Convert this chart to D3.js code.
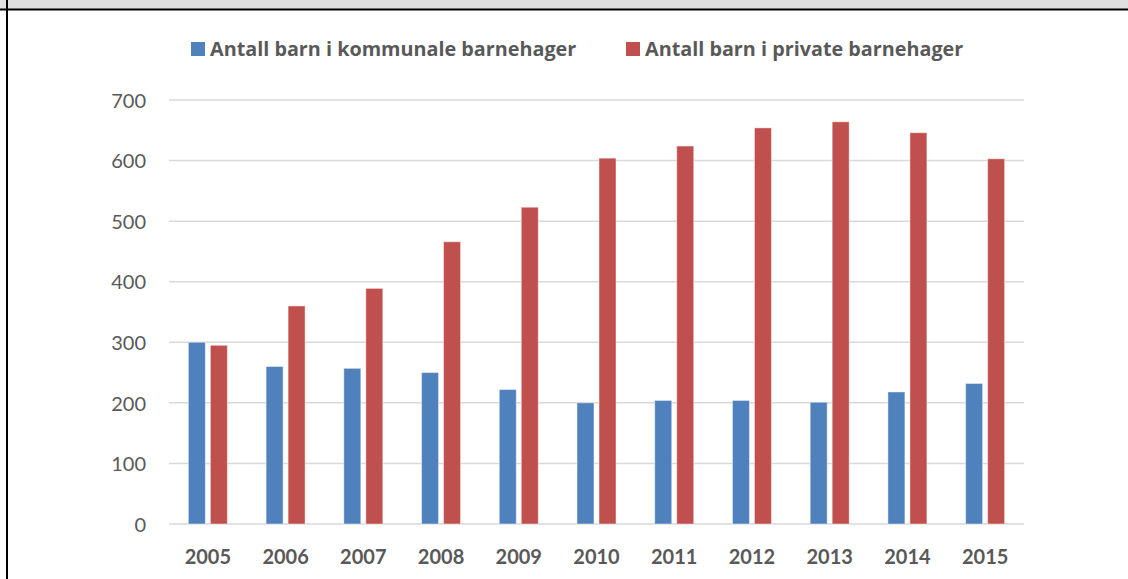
<!DOCTYPE html>
<html>
<head>
<meta charset="utf-8">
<script src="https://cdn.jsdelivr.net/npm/d3@7"></script>
<style>
  body { margin: 0; background: #fff; }
  svg { display: block; font-family: Lato, "Open Sans", sans-serif; }
</style>
</head>
<body>
<svg id="chart" width="1128" height="579"></svg>
<script>
'use strict'

let years = ['2005', '2006', '2007', '2008', '2009', '2010', '2011', '2012', '2013', '2014', '2015']
let kommunale = [300, 260, 257, 250, 222, 200, 204, 204, 201, 218, 232]
let private_ = [295, 360, 389, 466, 523, 604, 624, 654, 664, 646, 603]
let seriesNames = ['Antall barn i kommunale barnehager', 'Antall barn i private barnehager']
let yTicks = [0, 100, 200, 300, 400, 500, 600, 700]

let colors = ['#4F81BD', '#C0504D']
let textColor = '#595959'

let svg = d3.select('#chart')
let W = 1128, H = 579

// frame: grey strip at top, black rules
svg.append('rect').attr('x', 0).attr('y', 0).attr('width', W).attr('height', 10).attr('fill', '#e0e0e0')
svg.append('line').attr('x1', 0).attr('x2', W).attr('y1', 9.5).attr('y2', 9.5)
	.attr('stroke', '#000').attr('stroke-width', 2)
svg.append('line').attr('x1', 7).attr('x2', 7).attr('y1', 0).attr('y2', H)
	.attr('stroke', '#000').attr('stroke-width', 2)

let padding = {left: 169, right: 1024, top: 100, bottom: 524}

let x0 = d3.scaleBand().domain(years).range([padding.left, padding.right]).paddingInner(0).paddingOuter(0)
let barW = 17, gap = 5
let yScale = d3.scaleLinear().domain([0, 700]).range([padding.bottom, padding.top])

// gridlines
svg.append('g').selectAll('line').data(yTicks).enter().append('line')
	.attr('x1', padding.left).attr('x2', padding.right)
	.attr('y1', function(d){ return yScale(d) }).attr('y2', function(d){ return yScale(d) })
	.attr('stroke', '#d9d9d9').attr('stroke-width', 1.5)

// y axis labels
let yAxis = svg.append('g').attr('transform', 'translate(' + (padding.left - 23) + ',0)')
	.call(d3.axisLeft(yScale).tickValues(yTicks).tickSize(0).tickPadding(0))
yAxis.select('.domain').remove()
yAxis.selectAll('text').attr('fill', textColor).style('font-size', '20px')
	.style('font-family', 'Lato, "Open Sans", sans-serif').attr('dy', '0.36em')

// x axis labels
let xAxis = svg.append('g').attr('transform', 'translate(0,' + padding.bottom + ')')
	.call(d3.axisBottom(x0).tickSize(0).tickPadding(26))
xAxis.select('.domain').remove()
xAxis.selectAll('text').attr('fill', textColor).style('font-size', '20px').style('font-weight', 'bold')
	.style('font-family', 'Lato, "Open Sans", sans-serif')

// bars
let series = [kommunale, private_]
series.forEach(function(vals, si){
	svg.append('g').selectAll('rect').data(vals).enter().append('rect')
		.attr('x', function(d, i){
			let c = x0(years[i]) + x0.bandwidth() / 2
			return si == 0 ? c - gap / 2 - barW : c + gap / 2
		})
		.attr('y', function(d){ return yScale(d) })
		.attr('width', barW)
		.attr('height', function(d){ return yScale(0) - yScale(d) })
		.attr('fill', colors[si])
		.attr('stroke', '#ffffff').attr('stroke-opacity', 0.45).attr('stroke-width', 1)
})

// legend
let legendX = [191, 626]
seriesNames.forEach(function(name, i){
	let g = svg.append('g').attr('transform', 'translate(' + legendX[i] + ',42)')
	g.append('rect').attr('width', 14).attr('height', 14).attr('fill', colors[i])
	g.append('text').text(name).attr('x', 19).attr('y', 14)
		.attr('fill', textColor).style('font-size', '19.8px').style('font-weight', 'bold')
		.style('font-family', '"Open Sans", sans-serif')
})
</script>
</body>
</html>
